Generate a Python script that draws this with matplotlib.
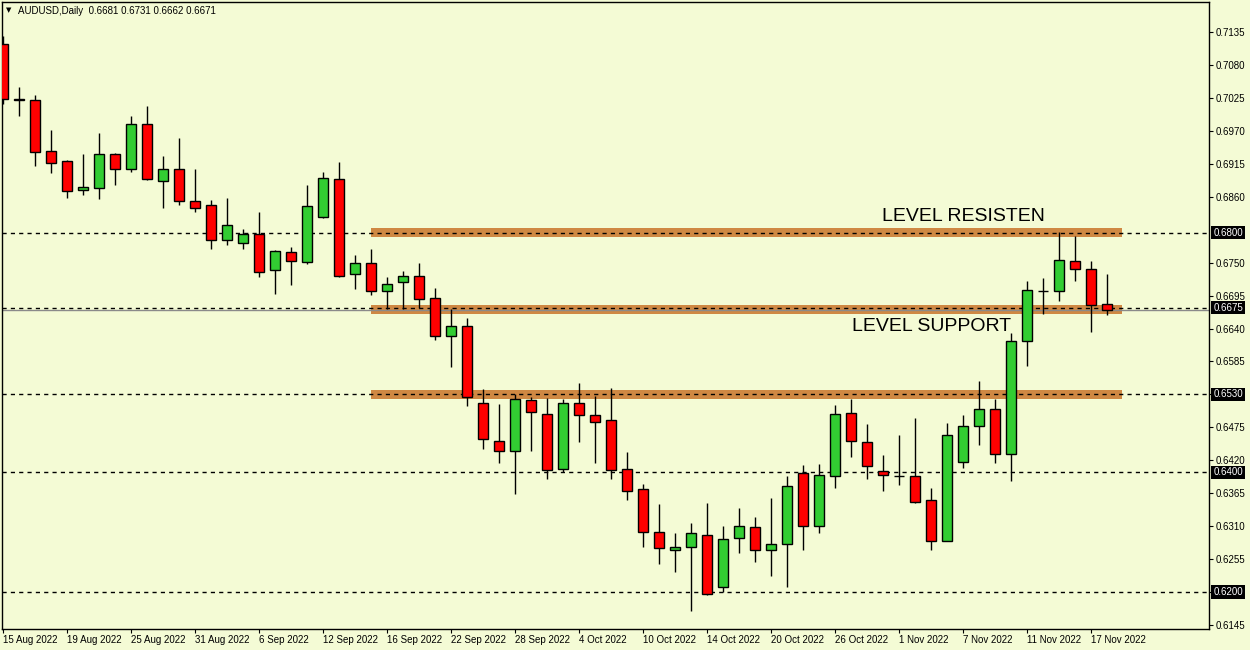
import matplotlib
matplotlib.use('Agg')
import matplotlib.pyplot as plt
import numpy as np

# daily OHLC, 15 Aug 2022 .. 18 Nov 2022
opens = [0.7115, 0.7024, 0.7021, 0.6936, 0.6919, 0.6872, 0.6875, 0.6932, 0.6907, 0.6981,
         0.6887, 0.6907, 0.6853, 0.6846, 0.6787, 0.6782, 0.6797, 0.6737, 0.6767, 0.6751,
         0.6827, 0.6889, 0.6731, 0.6749, 0.6702, 0.6717, 0.6727, 0.6691, 0.6628, 0.6645,
         0.6515, 0.6453, 0.6435, 0.6520, 0.6498, 0.6405, 0.6515, 0.6495, 0.6487, 0.6405,
         0.6372, 0.6300, 0.6271, 0.6275, 0.6296, 0.6208, 0.6290, 0.6308, 0.6270, 0.6280,
         0.6398, 0.6311, 0.6393, 0.6499, 0.6450, 0.6402, 0.6394, 0.6393, 0.6353, 0.6286,
         0.6417, 0.6478, 0.6505, 0.6430, 0.6619, 0.6703, 0.6702, 0.6752, 0.6739, 0.6681]
highs = [0.7128, 0.7043, 0.7030, 0.6971, 0.6921, 0.6931, 0.6966, 0.6933, 0.6995, 0.7011,
         0.6928, 0.6958, 0.6906, 0.6855, 0.6858, 0.6806, 0.6834, 0.6771, 0.6776, 0.6880,
         0.6901, 0.6918, 0.6763, 0.6773, 0.6726, 0.6736, 0.6749, 0.6708, 0.6673, 0.6658,
         0.6539, 0.6514, 0.6530, 0.6526, 0.6524, 0.6523, 0.6549, 0.6527, 0.6541, 0.6433,
         0.6380, 0.6347, 0.6298, 0.6316, 0.6348, 0.6311, 0.6340, 0.6325, 0.6357, 0.6393,
         0.6412, 0.6413, 0.6512, 0.6523, 0.6481, 0.6428, 0.6463, 0.6491, 0.6373, 0.6483,
         0.6496, 0.6552, 0.6523, 0.6632, 0.6719, 0.6724, 0.6801, 0.6794, 0.6752, 0.6731]
lows = [0.7015, 0.6994, 0.6912, 0.6900, 0.6858, 0.6863, 0.6856, 0.6880, 0.6901, 0.6888,
        0.6842, 0.6847, 0.6835, 0.6772, 0.6780, 0.6773, 0.6726, 0.6698, 0.6713, 0.6747,
        0.6825, 0.6726, 0.6706, 0.6696, 0.6672, 0.6672, 0.6675, 0.6621, 0.6575, 0.6511,
        0.6438, 0.6415, 0.6363, 0.6436, 0.6389, 0.6400, 0.6451, 0.6416, 0.6389, 0.6353,
        0.6275, 0.6246, 0.6234, 0.6169, 0.6195, 0.6200, 0.6266, 0.6251, 0.6227, 0.6209,
        0.6271, 0.6299, 0.6373, 0.6426, 0.6389, 0.6368, 0.6378, 0.6348, 0.6271, 0.6285,
        0.6407, 0.6445, 0.6415, 0.6386, 0.6578, 0.6664, 0.6686, 0.6720, 0.6635, 0.6662]
closes = [0.7024, 0.7021, 0.6935, 0.6917, 0.6870, 0.6876, 0.6931, 0.6907, 0.6981, 0.6890,
          0.6907, 0.6853, 0.6842, 0.6787, 0.6812, 0.6797, 0.6735, 0.6769, 0.6752, 0.6844,
          0.6891, 0.6728, 0.6749, 0.6702, 0.6714, 0.6727, 0.6689, 0.6628, 0.6644, 0.6525,
          0.6455, 0.6435, 0.6522, 0.6500, 0.6403, 0.6515, 0.6495, 0.6484, 0.6403, 0.6368,
          0.6301, 0.6273, 0.6276, 0.6298, 0.6196, 0.6288, 0.6310, 0.6270, 0.6280, 0.6377,
          0.6311, 0.6395, 0.6497, 0.6452, 0.6410, 0.6395, 0.6394, 0.6351, 0.6286, 0.6463,
          0.6478, 0.6505, 0.6430, 0.6619, 0.6704, 0.6703, 0.6754, 0.6740, 0.6680, 0.6671]

date_labels = ['15 Aug 2022', '19 Aug 2022', '25 Aug 2022', '31 Aug 2022', '6 Sep 2022',
               '12 Sep 2022', '16 Sep 2022', '22 Sep 2022', '28 Sep 2022', '4 Oct 2022',
               '10 Oct 2022', '14 Oct 2022', '20 Oct 2022', '26 Oct 2022', '1 Nov 2022',
               '7 Nov 2022', '11 Nov 2022', '17 Nov 2022']
price_ticks = [0.7135, 0.7080, 0.7025, 0.6970, 0.6915, 0.6860, 0.6750, 0.6695, 0.6640,
               0.6585, 0.6530, 0.6475, 0.6420, 0.6365, 0.6310, 0.6255, 0.6200, 0.6145]
hlines = [0.6800, 0.6675, 0.6530, 0.6400, 0.6200]
zones = [0.6800, 0.6672, 0.6530]
bid = 0.6671

BG = '#F4FBD5'
UP = '#32CD32'
DOWN = '#FF0000'
ZONE = '#CF8843'

fig = plt.figure(figsize=(12.5, 6.5), dpi=100, facecolor=BG)
ax = fig.add_axes([0.0016, 0.0323, 0.9656, 0.9646], facecolor=BG)

x = np.arange(len(opens))
o = np.array(opens)
c = np.array(closes)
colors = [UP if cc > oo else (DOWN if cc < oo else 'black') for oo, cc in zip(o, c)]

# zones
for z in zones:
    ax.fill_between([23, 69.95], z - 0.0007, z + 0.0007, color=ZONE, lw=0, zorder=1)

# level lines
for h in hlines:
    ax.axhline(h, color='black', lw=1, ls=(0, (3, 3)), zorder=2)
ax.axhline(bid, color='#8A8A8A', lw=1, zorder=2)

# candles
ax.vlines(x, lows, highs, color='black', lw=1, zorder=3)
ax.bar(x, np.abs(c - o), bottom=np.minimum(o, c), width=0.64, color=colors,
       edgecolor='black', linewidth=1, zorder=4)

ax.set_xlim(-0.0625, 75.375)
ax.set_ylim(0.61383, 0.71851)

ax.set_xticks(np.arange(0, 70, 4))
ax.set_xticklabels(date_labels, ha='left', fontsize=7, family='Liberation Sans')
ax.tick_params(axis='x', length=3, pad=1, color='black')

ax.yaxis.tick_right()
ax.set_yticks(price_ticks)
ax.set_yticklabels(['' if p in (0.6530, 0.6200) else '%.4f' % p for p in price_ticks],
                   fontsize=7, family='Liberation Sans')
ax.tick_params(axis='y', length=3, pad=2, color='black')

for s in ax.spines.values():
    s.set_color('black')
    s.set_linewidth(1)

# boxed price labels on the right scale
ytr = ax.get_yaxis_transform()
for h in hlines:
    ax.text(1.0035, h, '%.4f' % h, transform=ytr, ha='left', va='center', fontsize=7,
            family='Liberation Sans', color='white', clip_on=False, zorder=10,
            bbox=dict(boxstyle='square,pad=0.18', fc='black', ec='none'))

ax.text(54.94, 0.68203, 'LEVEL RESISTEN', fontsize=14, family='Liberation Sans',
        ha='left', va='baseline', color='black', zorder=6)
ax.text(53.04, 0.66358, 'LEVEL SUPPORT', fontsize=14, family='Liberation Sans',
        ha='left', va='baseline', color='black', zorder=6)

fig.text(9 / 1250, 1 - 10.5 / 650, '\u25BC', fontsize=5, ha='center', va='center')
fig.text(18 / 1250, 1 - 10.5 / 650, 'AUDUSD,Daily  %.4f %.4f %.4f %.4f'
         % (opens[-1], highs[-1], lows[-1], closes[-1]),
         fontsize=7, family='Liberation Sans', ha='left', va='center')

fig.savefig('out.png', dpi=100, facecolor=BG)
